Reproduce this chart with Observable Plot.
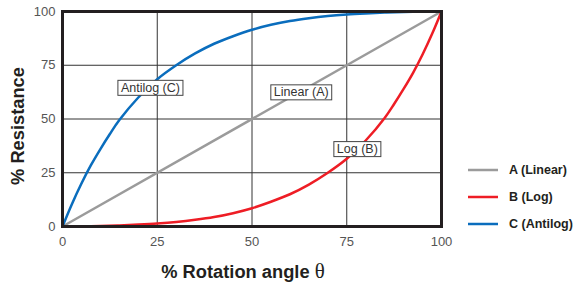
<!DOCTYPE html>
<html>
<head>
<meta charset="utf-8">
<script src="https://cdn.jsdelivr.net/npm/d3@7"></script>
<script src="https://cdn.jsdelivr.net/npm/@observablehq/plot@0.6"></script>
<style>
  html, body { margin: 0; padding: 0; background: #fff; }
  #chart { width: 575px; height: 287px; position: relative; }
</style>
</head>
<body>
<div id="chart"></div>
<script>
// Rotation angle (%) sample positions and % resistance
const linearX = [0, 100];
const linearY = [0, 100];

const antilogX = [0, 2.5, 5, 7.5, 10, 12.5, 15, 20, 25, 30, 35, 40, 45, 50, 55, 60, 65, 70, 75, 80, 85, 90, 95, 100];
const antilogY = [0, 10.5, 20, 28.5, 36, 43, 49.5, 60, 68.5, 75, 80.5, 85, 88.5, 91.5, 93.8, 95.6, 96.9, 97.9, 98.6, 99.1, 99.5, 99.8, 99.95, 100];

const logX = [0, 5, 10, 15, 20, 25, 30, 35, 40, 45, 50, 55, 60, 65, 70, 75, 80, 85, 87.5, 90, 92.5, 95, 97.5, 100];
const logY = [0, 0.05, 0.2, 0.5, 0.9, 1.4, 2.1, 3.1, 4.4, 6.2, 8.5, 11.5, 15, 19.5, 25, 31.5, 40, 50.5, 57, 64, 71.5, 80, 89.5, 100];

const tickValues = [0, 25, 50, 75, 100];

const seriesNames = ["A (Linear)", "B (Log)", "C (Antilog)"];
const seriesColors = ["#9b9b9b", "#ee1d25", "#0a6dbd"];

const labelTexts = ["Antilog (C)", "Linear (A)", "Log (B)"];
const labelX = [23.2, 63, 77.8];
const labelY = [64.5, 62.4, 36];

const xTitle = "% Rotation angle ";
const yTitle = "% Resistance";

const toPts = (xs, ys) => xs.map((x, i) => ({x, y: ys[i]}));
const linear = toPts(linearX, linearY);
const antilog = toPts(antilogX, antilogY);
const logc = toPts(logX, logY);
const labels = labelTexts.map((t, i) => ({t, x: labelX[i], y: labelY[i]}));

const chart = Plot.plot({
  width: 575,
  height: 287,
  marginLeft: 62,
  marginRight: 134,
  marginTop: 11,
  marginBottom: 61,
  style: {fontFamily: "'Liberation Sans', Arial, sans-serif", fontSize: "13px", background: "#fff"},
  x: {domain: [0, 100]},
  y: {domain: [0, 100]},
  marks: [
    Plot.gridX(tickValues, {stroke: "#333", strokeOpacity: 1, strokeWidth: 1}),
    Plot.gridY(tickValues, {stroke: "#333", strokeOpacity: 1, strokeWidth: 1}),
    Plot.axisX({ticks: tickValues, tickSize: 0, tickPadding: 10, label: null, fill: "#555", fontSize: 13}),
    Plot.axisY({ticks: tickValues, tickSize: 0, tickPadding: 7, label: null, fill: "#555", fontSize: 13}),
    Plot.line(linear, {x: "x", y: "y", stroke: seriesColors[0], strokeWidth: 2.5}),
    Plot.line(logc, {x: "x", y: "y", stroke: seriesColors[1], strokeWidth: 2.5, curve: "catmull-rom"}),
    Plot.line(antilog, {x: "x", y: "y", stroke: seriesColors[2], strokeWidth: 2.5, curve: "catmull-rom"}),
    Plot.frame({stroke: "#231f20", strokeWidth: 3}),
    Plot.text(labels, {x: "x", y: "y", text: "t", fill: "#333", fontSize: 12.5})
  ]
});

document.getElementById("chart").appendChild(chart);

const svg = d3.select(chart);
// boxes behind curve labels
svg.selectAll("text").filter(function() { return labelTexts.includes(this.textContent); }).each(function() {
  const bb = this.getBBox();
  d3.select(this.parentNode).insert("rect", () => this)
    .attr("x", bb.x - 3).attr("y", bb.y - 0.5)
    .attr("width", bb.width + 6).attr("height", bb.height + 1)
    .attr("transform", this.getAttribute("transform"))
    .attr("fill", "#fff").attr("stroke", "#444").attr("stroke-width", 1);
});

// axis titles
svg.append("text")
  .attr("x", 243).attr("y", 278)
  .attr("text-anchor", "middle")
  .attr("font-family", "'Liberation Sans', Arial, sans-serif")
  .attr("font-size", 18.3).attr("font-weight", "bold").attr("fill", "#231f20")
  .text(xTitle)
  .append("tspan").attr("font-weight", "normal").attr("font-family", "'Liberation Serif', serif").attr("font-size", 21).text("θ");

svg.append("text")
  .attr("transform", "translate(24,126) rotate(-90)")
  .attr("text-anchor", "middle")
  .attr("font-family", "'Liberation Sans', Arial, sans-serif")
  .attr("font-size", 18.3).attr("font-weight", "bold").attr("fill", "#231f20")
  .text(yTitle);

// legend
const legendY = [170, 197, 224];
seriesNames.forEach((name, i) => {
  svg.append("line")
    .attr("x1", 468).attr("x2", 498).attr("y1", legendY[i]).attr("y2", legendY[i])
    .attr("stroke", seriesColors[i]).attr("stroke-width", 2.5);
  svg.append("text")
    .attr("x", 509).attr("y", legendY[i]).attr("dy", "0.35em")
    .attr("text-anchor", "start")
    .attr("font-family", "'Liberation Sans', Arial, sans-serif")
    .attr("font-size", 12.5).attr("font-weight", "bold").attr("fill", "#231f20")
    .text(name);
});
</script>
</body>
</html>
